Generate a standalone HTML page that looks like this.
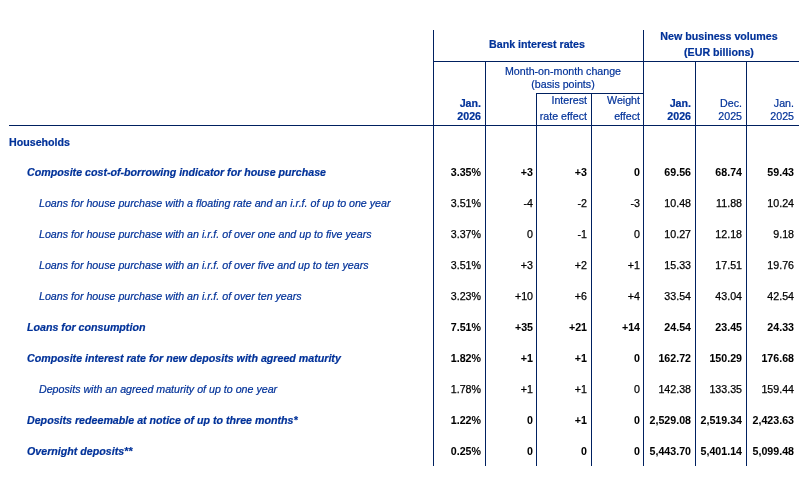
<!DOCTYPE html>
<html><head><meta charset="utf-8"><style>
html,body{margin:0;padding:0;background:#fff;}
body{width:810px;height:493px;position:relative;overflow:hidden;font-family:"Liberation Sans",sans-serif;font-size:10.667px;}
.l{position:absolute;background:#002060;}
.t{position:absolute;-webkit-text-stroke:0.2px currentColor;-webkit-font-smoothing:antialiased;will-change:transform;white-space:nowrap;line-height:12px;height:12px;color:#003299;}
.b{font-weight:bold;}
.i{font-style:italic;}
.bi{font-weight:bold;font-style:italic;}
.n{color:#000;-webkit-text-stroke:0.25px #000;}
.n.b{-webkit-text-stroke:0.05px #000;}
</style></head><body>
<div class="l" style="left:433px;top:30px;width:1px;height:436px"></div>
<div class="l" style="left:643px;top:30px;width:1px;height:436px"></div>
<div class="l" style="left:485px;top:61px;width:1px;height:405px"></div>
<div class="l" style="left:695px;top:61px;width:1px;height:405px"></div>
<div class="l" style="left:746px;top:61px;width:1px;height:405px"></div>
<div class="l" style="left:536px;top:93px;width:1px;height:373px"></div>
<div class="l" style="left:591px;top:93px;width:1px;height:373px"></div>
<div class="l" style="left:433px;top:61px;width:366px;height:1px"></div>
<div class="l" style="left:536px;top:93px;width:107px;height:1px"></div>
<div class="l" style="left:9px;top:125px;width:790px;height:1px"></div>
<div class="t b" style="top:38px;left:337px;width:400px;text-align:center;">Bank interest rates</div>
<div class="t b" style="top:30px;left:519px;width:400px;text-align:center;">New business volumes</div>
<div class="t b" style="top:46px;left:519px;width:400px;text-align:center;">(EUR billions)</div>
<div class="t " style="top:65px;left:363px;width:400px;text-align:center;">Month-on-month change</div>
<div class="t " style="top:78px;left:363px;width:400px;text-align:center;">(basis points)</div>
<div class="t " style="top:94px;left:287px;width:300px;text-align:right;">Interest</div>
<div class="t " style="top:110px;left:287px;width:300px;text-align:right;">rate effect</div>
<div class="t " style="top:94px;left:340px;width:300px;text-align:right;">Weight</div>
<div class="t " style="top:110px;left:340px;width:300px;text-align:right;">effect</div>
<div class="t b" style="top:97px;left:181px;width:300px;text-align:right;">Jan.</div>
<div class="t b" style="top:110px;left:181px;width:300px;text-align:right;">2026</div>
<div class="t b" style="top:97px;left:391px;width:300px;text-align:right;">Jan.</div>
<div class="t b" style="top:110px;left:391px;width:300px;text-align:right;">2026</div>
<div class="t " style="top:97px;left:442px;width:300px;text-align:right;">Dec.</div>
<div class="t " style="top:110px;left:442px;width:300px;text-align:right;">2025</div>
<div class="t " style="top:97px;left:494px;width:300px;text-align:right;">Jan.</div>
<div class="t " style="top:110px;left:494px;width:300px;text-align:right;">2025</div>
<div class="t b" style="top:136px;left:9px;">Households</div>
<div class="t bi" style="top:166px;left:26.5px;">Composite cost-of-borrowing indicator for house purchase</div>
<div class="t n b" style="top:166px;left:181px;width:300px;text-align:right;">3.35%</div>
<div class="t n b" style="top:166px;left:233px;width:300px;text-align:right;">+3</div>
<div class="t n b" style="top:166px;left:287px;width:300px;text-align:right;">+3</div>
<div class="t n b" style="top:166px;left:340px;width:300px;text-align:right;">0</div>
<div class="t n b" style="top:166px;left:391px;width:300px;text-align:right;">69.56</div>
<div class="t n b" style="top:166px;left:442px;width:300px;text-align:right;">68.74</div>
<div class="t n b" style="top:166px;left:494px;width:300px;text-align:right;">59.43</div>
<div class="t i" style="top:197px;left:39px;">Loans for house purchase with a floating rate and an i.r.f. of up to one year</div>
<div class="t n" style="top:197px;left:181px;width:300px;text-align:right;">3.51%</div>
<div class="t n" style="top:197px;left:233px;width:300px;text-align:right;">-4</div>
<div class="t n" style="top:197px;left:287px;width:300px;text-align:right;">-2</div>
<div class="t n" style="top:197px;left:340px;width:300px;text-align:right;">-3</div>
<div class="t n" style="top:197px;left:391px;width:300px;text-align:right;">10.48</div>
<div class="t n" style="top:197px;left:442px;width:300px;text-align:right;">11.88</div>
<div class="t n" style="top:197px;left:494px;width:300px;text-align:right;">10.24</div>
<div class="t i" style="top:228px;left:39px;">Loans for house purchase with an i.r.f. of over one and up to five years</div>
<div class="t n" style="top:228px;left:181px;width:300px;text-align:right;">3.37%</div>
<div class="t n" style="top:228px;left:233px;width:300px;text-align:right;">0</div>
<div class="t n" style="top:228px;left:287px;width:300px;text-align:right;">-1</div>
<div class="t n" style="top:228px;left:340px;width:300px;text-align:right;">0</div>
<div class="t n" style="top:228px;left:391px;width:300px;text-align:right;">10.27</div>
<div class="t n" style="top:228px;left:442px;width:300px;text-align:right;">12.18</div>
<div class="t n" style="top:228px;left:494px;width:300px;text-align:right;">9.18</div>
<div class="t i" style="top:259px;left:39px;">Loans for house purchase with an i.r.f. of over five and up to ten years</div>
<div class="t n" style="top:259px;left:181px;width:300px;text-align:right;">3.51%</div>
<div class="t n" style="top:259px;left:233px;width:300px;text-align:right;">+3</div>
<div class="t n" style="top:259px;left:287px;width:300px;text-align:right;">+2</div>
<div class="t n" style="top:259px;left:340px;width:300px;text-align:right;">+1</div>
<div class="t n" style="top:259px;left:391px;width:300px;text-align:right;">15.33</div>
<div class="t n" style="top:259px;left:442px;width:300px;text-align:right;">17.51</div>
<div class="t n" style="top:259px;left:494px;width:300px;text-align:right;">19.76</div>
<div class="t i" style="top:290px;left:39px;">Loans for house purchase with an i.r.f. of over ten years</div>
<div class="t n" style="top:290px;left:181px;width:300px;text-align:right;">3.23%</div>
<div class="t n" style="top:290px;left:233px;width:300px;text-align:right;">+10</div>
<div class="t n" style="top:290px;left:287px;width:300px;text-align:right;">+6</div>
<div class="t n" style="top:290px;left:340px;width:300px;text-align:right;">+4</div>
<div class="t n" style="top:290px;left:391px;width:300px;text-align:right;">33.54</div>
<div class="t n" style="top:290px;left:442px;width:300px;text-align:right;">43.04</div>
<div class="t n" style="top:290px;left:494px;width:300px;text-align:right;">42.54</div>
<div class="t bi" style="top:321px;left:26.5px;">Loans for consumption</div>
<div class="t n b" style="top:321px;left:181px;width:300px;text-align:right;">7.51%</div>
<div class="t n b" style="top:321px;left:233px;width:300px;text-align:right;">+35</div>
<div class="t n b" style="top:321px;left:287px;width:300px;text-align:right;">+21</div>
<div class="t n b" style="top:321px;left:340px;width:300px;text-align:right;">+14</div>
<div class="t n b" style="top:321px;left:391px;width:300px;text-align:right;">24.54</div>
<div class="t n b" style="top:321px;left:442px;width:300px;text-align:right;">23.45</div>
<div class="t n b" style="top:321px;left:494px;width:300px;text-align:right;">24.33</div>
<div class="t bi" style="top:352px;left:26.5px;">Composite interest rate for new deposits with agreed maturity</div>
<div class="t n b" style="top:352px;left:181px;width:300px;text-align:right;">1.82%</div>
<div class="t n b" style="top:352px;left:233px;width:300px;text-align:right;">+1</div>
<div class="t n b" style="top:352px;left:287px;width:300px;text-align:right;">+1</div>
<div class="t n b" style="top:352px;left:340px;width:300px;text-align:right;">0</div>
<div class="t n b" style="top:352px;left:391px;width:300px;text-align:right;">162.72</div>
<div class="t n b" style="top:352px;left:442px;width:300px;text-align:right;">150.29</div>
<div class="t n b" style="top:352px;left:494px;width:300px;text-align:right;">176.68</div>
<div class="t i" style="top:383px;left:39px;">Deposits with an agreed maturity of up to one year</div>
<div class="t n" style="top:383px;left:181px;width:300px;text-align:right;">1.78%</div>
<div class="t n" style="top:383px;left:233px;width:300px;text-align:right;">+1</div>
<div class="t n" style="top:383px;left:287px;width:300px;text-align:right;">+1</div>
<div class="t n" style="top:383px;left:340px;width:300px;text-align:right;">0</div>
<div class="t n" style="top:383px;left:391px;width:300px;text-align:right;">142.38</div>
<div class="t n" style="top:383px;left:442px;width:300px;text-align:right;">133.35</div>
<div class="t n" style="top:383px;left:494px;width:300px;text-align:right;">159.44</div>
<div class="t bi" style="top:414px;left:26.5px;">Deposits redeemable at notice of up to three months*</div>
<div class="t n b" style="top:414px;left:181px;width:300px;text-align:right;">1.22%</div>
<div class="t n b" style="top:414px;left:233px;width:300px;text-align:right;">0</div>
<div class="t n b" style="top:414px;left:287px;width:300px;text-align:right;">+1</div>
<div class="t n b" style="top:414px;left:340px;width:300px;text-align:right;">0</div>
<div class="t n b" style="top:414px;left:391px;width:300px;text-align:right;">2,529.08</div>
<div class="t n b" style="top:414px;left:442px;width:300px;text-align:right;">2,519.34</div>
<div class="t n b" style="top:414px;left:494px;width:300px;text-align:right;">2,423.63</div>
<div class="t bi" style="top:445px;left:26.5px;">Overnight deposits**</div>
<div class="t n b" style="top:445px;left:181px;width:300px;text-align:right;">0.25%</div>
<div class="t n b" style="top:445px;left:233px;width:300px;text-align:right;">0</div>
<div class="t n b" style="top:445px;left:287px;width:300px;text-align:right;">0</div>
<div class="t n b" style="top:445px;left:340px;width:300px;text-align:right;">0</div>
<div class="t n b" style="top:445px;left:391px;width:300px;text-align:right;">5,443.70</div>
<div class="t n b" style="top:445px;left:442px;width:300px;text-align:right;">5,401.14</div>
<div class="t n b" style="top:445px;left:494px;width:300px;text-align:right;">5,099.48</div>
</body></html>
